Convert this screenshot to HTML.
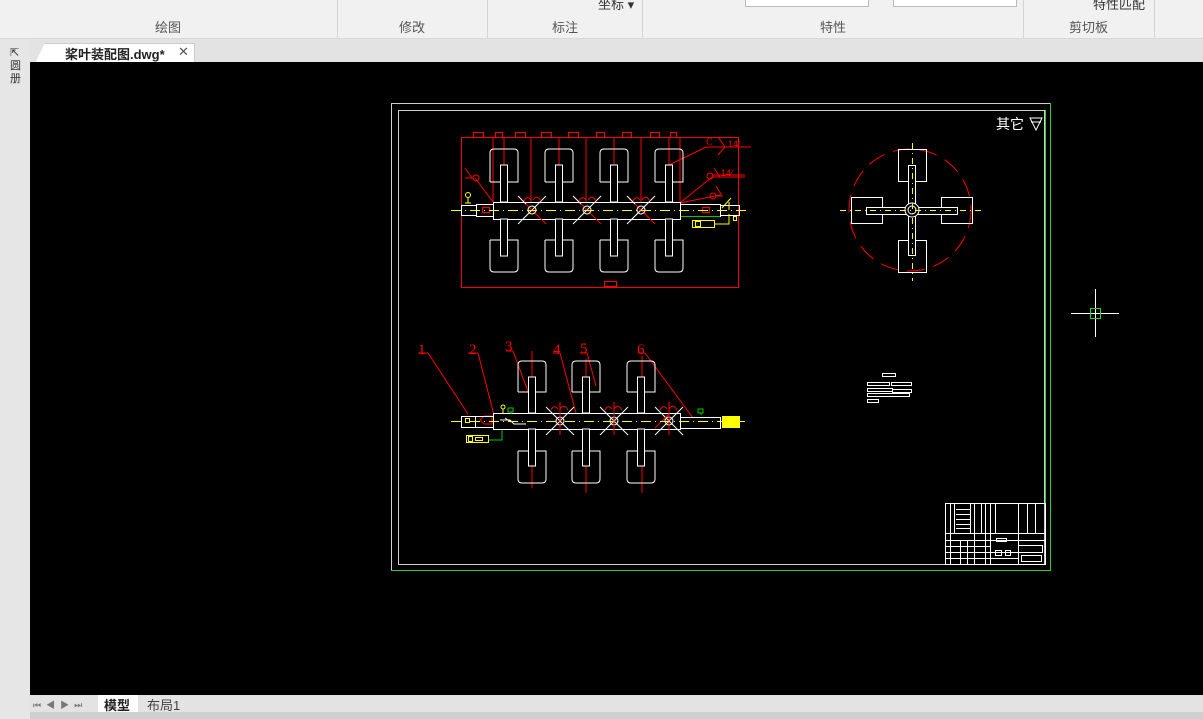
<!DOCTYPE html>
<html><head><meta charset="utf-8">
<style>
html,body{margin:0;padding:0;width:1203px;height:719px;overflow:hidden;background:#f0f0f0;font-family:"Liberation Sans","Noto Sans CJK SC",sans-serif;}
.abs{position:absolute}
.lbl{position:absolute;top:17px;font-size:13px;color:#555;}
.sep{position:absolute;top:0;width:1px;height:38px;background:#d4d4d4}
</style></head><body>
<div class="abs" style="left:0;top:0;width:1203px;height:38px;background:#f1f1f1;border-bottom:1px solid #d8d8d8"></div>
<div class="lbl" style="left:155px">绘图</div>
<div class="lbl" style="left:399px">修改</div>
<div class="lbl" style="left:552px">标注</div>
<div class="lbl" style="left:820px">特性</div>
<div class="lbl" style="left:1069px">剪切板</div>
<div class="sep" style="left:337px"></div>
<div class="sep" style="left:487px"></div>
<div class="sep" style="left:642px"></div>
<div class="sep" style="left:1023px"></div>
<div class="sep" style="left:1154px"></div>
<div class="abs" style="left:745px;top:-2px;width:122px;height:7px;background:#fff;border:1px solid #bbb"></div>
<div class="abs" style="left:893px;top:-2px;width:122px;height:7px;background:#fff;border:1px solid #bbb"></div>
<div class="abs" style="left:1093px;top:-6px;font-size:13px;color:#333">特性匹配</div>
<div class="abs" style="left:598px;top:-6px;font-size:13px;color:#333">坐标 ▾</div>
<div class="abs" style="left:0;top:39px;width:1203px;height:23px;background:#e3e3e3"></div>
<div class="abs" style="left:0;top:39px;width:30px;height:680px;background:#e6e6e6"></div>
<div class="abs" style="left:10px;top:47px;font-size:11px;color:#333;line-height:13px;width:12px">⇱<br>圆<br>册</div>
<div class="abs" style="left:35px;top:43px;width:158px;height:19px;background:#fff;border:1px solid #ccc;border-bottom:none;clip-path:polygon(10px 0,100% 0,100% 100%,0 100%)"></div>
<div class="abs" style="left:65px;top:44px;font-size:13px;font-weight:bold;color:#222">桨叶装配图.dwg*</div>
<div class="abs" style="left:178px;top:44px;font-size:13px;color:#555">✕</div>
<div class="abs" style="left:30px;top:695px;width:1173px;height:17px;background:#e3e3e3"></div>
<div class="abs" style="left:30px;top:712px;width:1173px;height:7px;background:#cfcfcf"></div>
<div class="abs" style="left:33px;top:698px;font-size:9px;color:#777;letter-spacing:5px">⏮◀▶⏭</div>
<div class="abs" style="left:98px;top:695px;width:40px;height:17px;background:#fff"></div>
<div class="abs" style="left:104px;top:695px;font-size:13px;font-weight:bold;color:#222">模型</div>
<div class="abs" style="left:147px;top:695px;font-size:13px;color:#444">布局1</div>

<svg class="abs" style="left:0;top:0" width="1203" height="719" viewBox="0 0 1203 719">
<rect x="30" y="62" width="1173" height="633" fill="#000"/>
<!-- frames -->
<rect x="391.5" y="103.5" width="659" height="467" fill="none" stroke="#cfcfcf"/>
<line x1="391" y1="570.5" x2="1051" y2="570.5" stroke="#2bd02b"/>
<line x1="1050.5" y1="103" x2="1050.5" y2="571" stroke="#2bd02b"/>
<rect x="398.5" y="110.5" width="646" height="454" fill="none" stroke="#cfcfcf"/>
<line x1="1045.5" y1="110" x2="1045.5" y2="565" stroke="#2bd02b"/>
<text x="996" y="129" fill="#fff" font-size="14" font-family="Noto Sans CJK SC,sans-serif">其它</text>
<path d="M1030,118 L1042,118 L1036,130 Z M1031,122 L1041,122" fill="none" stroke="#fff"/>

<!-- TOP VIEW -->
<g fill="none" stroke-width="1">
<rect x="461.5" y="137.5" width="277" height="150" stroke="#f00"/>
<g stroke="#f00">
<rect x="473.5" y="132.5" width="10" height="5"/><rect x="495.5" y="132.5" width="7" height="5"/><rect x="515.5" y="132.5" width="10" height="5"/>
<rect x="541.5" y="132.5" width="10" height="5"/><rect x="568.5" y="132.5" width="10" height="5"/><rect x="596.5" y="132.5" width="8" height="5"/>
<rect x="622.5" y="132.5" width="9" height="5"/><rect x="650.5" y="132.5" width="9" height="5"/><rect x="670.5" y="132.5" width="6" height="5"/>
<rect x="604.5" y="281.5" width="12" height="5"/>
<line x1="493" y1="137" x2="493" y2="202"/><line x1="504" y1="137" x2="504" y2="202"/><line x1="531" y1="137" x2="531" y2="202"/>
<line x1="559" y1="137" x2="559" y2="202"/><line x1="586" y1="137" x2="586" y2="202"/><line x1="614" y1="137" x2="614" y2="202"/>
<line x1="641" y1="137" x2="641" y2="202"/><line x1="669" y1="137" x2="669" y2="202"/><line x1="680" y1="137" x2="680" y2="202"/>
<line x1="669" y1="165" x2="706" y2="147"/><line x1="706" y1="147" x2="751" y2="147"/>
<line x1="680" y1="203" x2="712" y2="177"/><line x1="712" y1="177" x2="745" y2="177"/><line x1="712" y1="175" x2="745" y2="175"/>
<line x1="680" y1="203" x2="720" y2="195"/>
<line x1="493" y1="202" x2="475" y2="178"/>
<path d="M718,137 L725,147 L718,155"/><circle cx="710" cy="176" r="3"/><path d="M714,168 L720,177 L714,177"/>
<path d="M716,186 L722,196 L716,196"/><circle cx="713" cy="196" r="3"/>
<path d="M465,168 L472,178 L465,178"/><circle cx="476" cy="178" r="3"/>
</g>
<text x="706" y="145" fill="#f00" font-size="10" font-family="Liberation Serif,serif">C</text>
<text x="728" y="147" fill="#f00" font-size="9" font-family="Liberation Sans,Noto Sans CJK SC,sans-serif">14⁄</text>
<text x="721" y="176" fill="#f00" font-size="9" font-family="Liberation Sans,sans-serif">14⁄</text>
<g stroke="#fff">
<rect x="493.5" y="202.5" width="187" height="17" fill="#000"/>
<rect x="476.5" y="204.5" width="17" height="12"/><rect x="461.5" y="205.5" width="15" height="10"/>
<rect x="680.5" y="204.5" width="40" height="12"/><rect x="720.5" y="205.5" width="19" height="10"/>
</g>
<g stroke="#fff">
<g transform="translate(504,0)"><path d="M-14,182 V153 Q-14,149 -10,149 H10 Q14,149 14,153 V182 H-14"/><rect x="-3.5" y="165" width="7" height="37" fill="#000"/><path d="M-14,240 V268 Q-14,272 -10,272 H10 Q14,272 14,268 V240 H-14"/><rect x="-3.5" y="219" width="7" height="37" fill="#000"/></g>
<g transform="translate(559,0)"><path d="M-14,182 V153 Q-14,149 -10,149 H10 Q14,149 14,153 V182 H-14"/><rect x="-3.5" y="165" width="7" height="37" fill="#000"/><path d="M-14,240 V268 Q-14,272 -10,272 H10 Q14,272 14,268 V240 H-14"/><rect x="-3.5" y="219" width="7" height="37" fill="#000"/></g>
<g transform="translate(614,0)"><path d="M-14,182 V153 Q-14,149 -10,149 H10 Q14,149 14,153 V182 H-14"/><rect x="-3.5" y="165" width="7" height="37" fill="#000"/><path d="M-14,240 V268 Q-14,272 -10,272 H10 Q14,272 14,268 V240 H-14"/><rect x="-3.5" y="219" width="7" height="37" fill="#000"/></g>
<g transform="translate(669,0)"><path d="M-14,182 V153 Q-14,149 -10,149 H10 Q14,149 14,153 V182 H-14"/><rect x="-3.5" y="165" width="7" height="37" fill="#000"/><path d="M-14,240 V268 Q-14,272 -10,272 H10 Q14,272 14,268 V240 H-14"/><rect x="-3.5" y="219" width="7" height="37" fill="#000"/></g>
<g transform="translate(532,210)"><line x1="-14" y1="14" x2="14" y2="-14"/><line x1="-14" y1="-14" x2="14" y2="14" stroke="#f00"/><line x1="-14" y1="-14" x2="-6" y2="-6"/><circle r="4"/></g>
<g transform="translate(587,210)"><line x1="-14" y1="14" x2="14" y2="-14"/><line x1="-14" y1="-14" x2="14" y2="14" stroke="#f00"/><line x1="-14" y1="-14" x2="-6" y2="-6"/><circle r="4"/></g>
<g transform="translate(641,210)"><line x1="-14" y1="14" x2="14" y2="-14"/><line x1="-14" y1="-14" x2="14" y2="14" stroke="#f00"/><line x1="-14" y1="-14" x2="-6" y2="-6"/><circle r="4"/></g>
</g>
<g stroke="#f00"><path d="M524,201 q3,-6 7,-1 M533,200 q4,-6 8,1"/><path d="M579,201 q3,-6 7,-1 M588,200 q4,-6 8,1"/><path d="M633,201 q3,-6 7,-1 M642,200 q4,-6 8,1"/>
<rect x="482.5" y="207.5" width="7" height="5"/><rect x="702.5" y="207.5" width="7" height="5"/></g>
<line x1="451" y1="210.5" x2="746" y2="210.5" stroke="#ff0" stroke-dasharray="10,4,1,4"/>
<line x1="681" y1="216.5" x2="720" y2="216.5" stroke="#0c0"/>
<g stroke="#ff0"><rect x="692.5" y="220.5" width="22" height="7"/><rect x="695.5" y="221.5" width="5" height="5"/><path d="M714,224 H729 V214 M729,210 V202 M722,208 L731,198"/><rect x="733.5" y="216.5" width="3" height="4"/>
<circle cx="468" cy="195" r="2.5"/><path d="M468,198 V203 M465,203 H471"/></g>
</g>

<!-- SIDE VIEW -->
<g fill="none">
<circle cx="910" cy="210" r="61" stroke="#f00" stroke-dasharray="18,9"/>
<g stroke="#fff">
<rect x="898.5" y="149.5" width="28" height="32"/><rect x="898.5" y="240.5" width="28" height="32"/>
<rect x="851.5" y="197.5" width="31" height="26"/><rect x="941.5" y="197.5" width="31" height="26"/>
<rect x="908.5" y="165.5" width="7" height="90" fill="#000"/>
<rect x="866.5" y="207.5" width="91" height="7" fill="#000"/>
<circle cx="912" cy="210" r="7" fill="#000"/><circle cx="912" cy="210" r="4"/>
</g>
<g stroke="#ff0" stroke-dasharray="6,4,1,4"><line x1="840" y1="210.5" x2="983" y2="210.5"/><line x1="912.5" y1="143" x2="912.5" y2="281"/></g>
</g>

<!-- BOTTOM VIEW -->
<g fill="none">
<g stroke="#f00">
<line x1="532" y1="351" x2="532" y2="488"/><line x1="586" y1="359" x2="586" y2="493"/><line x1="642" y1="356" x2="642" y2="493"/>
<line x1="428" y1="353" x2="468" y2="414"/><line x1="418" y1="353" x2="428" y2="353"/>
<line x1="478" y1="353" x2="495" y2="419"/><line x1="468" y1="353" x2="478" y2="353"/>
<line x1="513" y1="351" x2="530" y2="397"/><line x1="506" y1="351" x2="513" y2="351"/>
<line x1="560" y1="353" x2="577" y2="417"/><line x1="553" y1="353" x2="560" y2="353"/>
<line x1="587" y1="353" x2="596" y2="386"/><line x1="580" y1="353" x2="587" y2="353"/>
<line x1="645" y1="353" x2="693" y2="418"/><line x1="638" y1="353" x2="645" y2="353"/>
<path d="M480,420 l4,-4 h8 v8 h-8 z"/>
</g>
<g fill="#f00" font-family="Liberation Serif,serif" font-size="15">
<text x="418" y="354" stroke="none">1</text><text x="469" y="354" stroke="none">2</text><text x="505" y="351" stroke="none">3</text>
<text x="553" y="354" stroke="none">4</text><text x="580" y="353" stroke="none">5</text><text x="637" y="354" stroke="none">6</text></g>
<g stroke="#fff">
<rect x="493.5" y="413.5" width="187" height="16" fill="#000"/>
<rect x="475.5" y="416.5" width="18" height="11"/><rect x="461.5" y="416.5" width="14" height="11"/>
<rect x="680.5" y="417.5" width="40" height="11"/>
<g transform="translate(532,0)"><path d="M-14,392 V365 Q-14,361 -10,361 H10 Q14,361 14,365 V392 H-14"/><rect x="-3.5" y="377" width="7" height="36" fill="#000"/><path d="M-14,451 V479 Q-14,483 -10,483 H10 Q14,483 14,479 V451 H-14"/><rect x="-3.5" y="429" width="7" height="37" fill="#000"/></g>
<g transform="translate(586,0)"><path d="M-14,392 V365 Q-14,361 -10,361 H10 Q14,361 14,365 V392 H-14"/><rect x="-3.5" y="377" width="7" height="36" fill="#000"/><path d="M-14,451 V479 Q-14,483 -10,483 H10 Q14,483 14,479 V451 H-14"/><rect x="-3.5" y="429" width="7" height="37" fill="#000"/></g>
<g transform="translate(641,0)"><path d="M-14,392 V365 Q-14,361 -10,361 H10 Q14,361 14,365 V392 H-14"/><rect x="-3.5" y="377" width="7" height="36" fill="#000"/><path d="M-14,451 V479 Q-14,483 -10,483 H10 Q14,483 14,479 V451 H-14"/><rect x="-3.5" y="429" width="7" height="37" fill="#000"/></g>
<g transform="translate(560,421)"><line x1="-14" y1="14" x2="14" y2="-14"/><line x1="-14" y1="-14" x2="14" y2="14"/><circle r="4"/></g>
<g transform="translate(614,421)"><line x1="-14" y1="14" x2="14" y2="-14"/><line x1="-14" y1="-14" x2="14" y2="14"/><circle r="4"/></g>
<g transform="translate(669,421)"><line x1="-14" y1="14" x2="14" y2="-14"/><line x1="-14" y1="-14" x2="14" y2="14"/><circle r="4"/></g>
<path d="M500,420 h10 l4,4 h12 M505,418 l6,4"/>
</g>
<g stroke="#f00"><line x1="560" y1="402" x2="560" y2="435"/><line x1="614" y1="402" x2="614" y2="435"/><line x1="669" y1="402" x2="669" y2="435"/>
<path d="M551,410 q3,-6 7,-1 M560,409 q4,-6 8,1"/><path d="M605,410 q3,-6 7,-1 M614,409 q4,-6 8,1"/><path d="M660,410 q3,-6 7,-1 M669,409 q4,-6 8,1"/>
<line x1="669" y1="414" x2="655" y2="428"/></g>
<line x1="451" y1="421.5" x2="745" y2="421.5" stroke="#ff0" stroke-dasharray="10,4,1,4"/>
<rect x="722" y="416" width="18" height="12" fill="#ff0"/>
<g stroke="#ff0"><rect x="466.5" y="435.5" width="22" height="7"/><rect x="468.5" y="436.5" width="4" height="5"/><rect x="475.5" y="437.5" width="7" height="3"/><rect x="465.5" y="418.5" width="4" height="4"/>
<circle cx="503" cy="407" r="2"/><path d="M503,409 V413"/></g>
<path d="M489,440 H502 V430" stroke="#0c0"/>
<path d="M508,408 h5 v4 h-5 z M511,412 v2 M698,409 h5 v4 h-5 z M701,413 v2" stroke="#0c0"/>
</g>

<!-- small annotation -->
<g fill="none" stroke="#fff">
<rect x="882.5" y="373.5" width="13" height="3"/>
<rect x="867.5" y="382.5" width="22" height="3"/><rect x="891.5" y="382.5" width="20" height="3"/>
<rect x="867.5" y="388.5" width="25" height="3"/><rect x="892.5" y="389.5" width="19" height="3"/>
<rect x="867.5" y="393.5" width="42" height="3"/><rect x="867.5" y="399.5" width="11" height="3"/>
</g>

<!-- title block -->
<g fill="none" stroke="#fff">
<rect x="945.5" y="503.5" width="100" height="61"/>
<line x1="945" y1="533.5" x2="1045" y2="533.5"/><line x1="945" y1="540.5" x2="1045" y2="540.5"/>
<line x1="950.5" y1="503" x2="950.5" y2="565"/><line x1="954.5" y1="503" x2="954.5" y2="533"/>
<line x1="970.5" y1="503" x2="970.5" y2="533"/><line x1="974.5" y1="503" x2="974.5" y2="565"/>
<line x1="981.5" y1="503" x2="981.5" y2="533"/><line x1="985.5" y1="503" x2="985.5" y2="565"/>
<line x1="990.5" y1="503" x2="990.5" y2="565"/><line x1="995.5" y1="503" x2="995.5" y2="533"/>
<line x1="1018.5" y1="503" x2="1018.5" y2="565"/><line x1="1027.5" y1="503" x2="1027.5" y2="533"/>
<line x1="1035.5" y1="503" x2="1035.5" y2="533"/>
<line x1="956" y1="509.5" x2="970" y2="509.5"/><line x1="956" y1="514.5" x2="970" y2="514.5"/><line x1="956" y1="519.5" x2="970" y2="519.5"/><line x1="956" y1="524.5" x2="970" y2="524.5"/><line x1="956" y1="528.5" x2="970" y2="528.5"/>
<line x1="945" y1="546.5" x2="990" y2="546.5"/><line x1="945" y1="552.5" x2="1018" y2="552.5"/><line x1="945" y1="558.5" x2="1018" y2="558.5"/>
<line x1="960.5" y1="540" x2="960.5" y2="565"/><line x1="967.5" y1="540" x2="967.5" y2="565"/>
<rect x="1018.5" y="545.5" width="24" height="7"/><rect x="1021.5" y="555.5" width="20" height="6"/>
<rect x="996.5" y="538.5" width="10" height="3"/><rect x="995.5" y="550.5" width="6" height="5"/><rect x="1005.5" y="550.5" width="5" height="5"/>
</g>

<!-- crosshair -->
<g stroke="#fff"><line x1="1071" y1="313.5" x2="1119" y2="313.5"/><line x1="1095.5" y1="289" x2="1095.5" y2="337"/></g>
<rect x="1090.5" y="308.5" width="10" height="10" fill="none" stroke="#2bd02b"/>
</svg>
</body></html>
